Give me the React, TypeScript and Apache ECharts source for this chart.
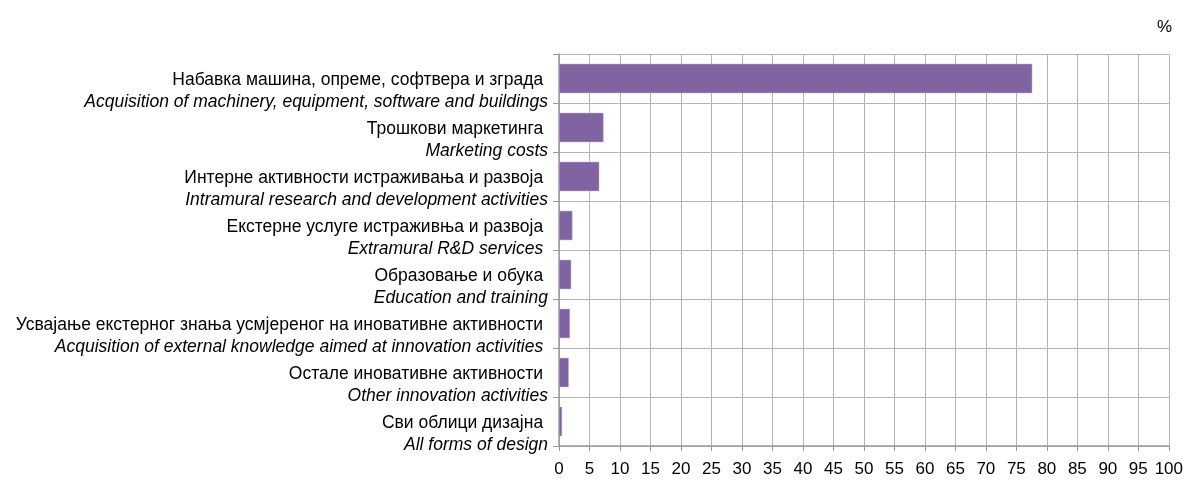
import React, { useEffect, useRef } from "react";
import * as echarts from "echarts";

const categoriesSr = [
  "Набавка машина, опреме, софтвера и зграда",
  "Трошкови маркетинга",
  "Интерне активности истраживања и развоја",
  "Екстерне услуге истраживња и развоја",
  "Образовање и обука",
  "Усвајање екстерног знања усмјереног на иновативне активности",
  "Остале иновативне активности",
  "Сви облици дизајна",
];
const categoriesEn = [
  "Acquisition of machinery, equipment, software and buildings",
  "Marketing costs",
  "Intramural research and development activities",
  "Extramural R&D services ",
  "Education and training",
  "Acquisition of external knowledge aimed at innovation activities ",
  "Other innovation activities",
  "All forms of design",
];
const values = [77.6, 7.3, 6.6, 2.2, 2.0, 1.8, 1.6, 0.5];
const unitLabel = "%";

const FONT = "'Liberation Sans', Arial, sans-serif";

export default function App() {
  const ref = useRef<HTMLDivElement>(null);
  useEffect(() => {
    if (!ref.current) return;
    const chart = echarts.init(ref.current, undefined, { renderer: "svg" });
    const labels = categoriesSr.map((s, i) => `{a|${s} }\n{b|${categoriesEn[i]}}`);
    chart.setOption({
      animation: false,
      grid: { left: 559, right: 15, top: 54, bottom: 34, containLabel: false },
      graphic: [
        {
          type: "text",
          right: 14,
          top: 18,
          style: { text: unitLabel, font: `17px ${FONT}`, fill: "#000" },
        },
      ],
      xAxis: {
        type: "value",
        min: 0,
        max: 100,
        interval: 5,
        axisLine: { show: true, lineStyle: { color: "#9a9a9a", width: 1.5 } },
        axisTick: { show: true, length: 5, lineStyle: { color: "#9a9a9a" } },
        splitLine: { show: true, lineStyle: { color: "#b4b4b4", width: 1 } },
        axisLabel: { color: "#000", fontFamily: FONT, fontSize: 17, margin: 14 },
      },
      yAxis: {
        type: "category",
        inverse: true,
        data: labels,
        axisLine: { show: true, lineStyle: { color: "#9a9a9a", width: 1.5 } },
        axisTick: { show: true, length: 6, lineStyle: { color: "#9a9a9a" } },
        splitLine: { show: true, lineStyle: { color: "#b4b4b4", width: 1 } },
        axisLabel: {
          margin: 11,
          align: "right",
          verticalAlign: "top",
          padding: [-11, 0, 0, 0],
          rich: {
            a: { fontFamily: FONT, fontSize: 17.5, color: "#000", lineHeight: 22 },
            b: { fontFamily: FONT, fontSize: 17.5, color: "#000", fontStyle: "italic", lineHeight: 22 },
          },
        },
      },
      series: [
        {
          type: "bar",
          data: values,
          barCategoryGap: "40%",
          itemStyle: { color: "#8064A2", borderColor: "#b9a8d0", borderWidth: 0.5 },
        },
      ],
    });
    return () => chart.dispose();
  }, []);
  return <div ref={ref} style={{ position: "fixed", left: 0, top: 0, width: 1186, height: 480 }} />;
}
